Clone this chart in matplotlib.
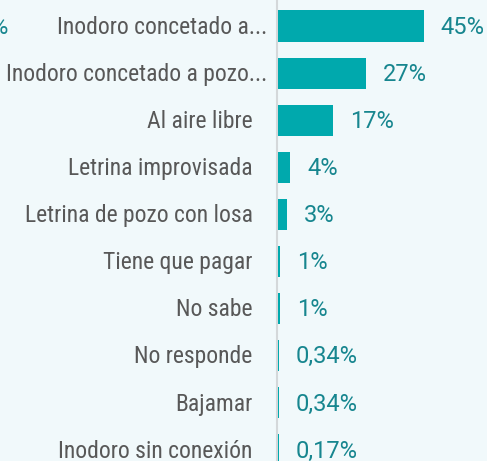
import matplotlib.pyplot as plt

# data
categories = ['Inodoro concetado a...', 'Inodoro concetado a pozo...', 'Al aire libre',
              'Letrina improvisada', 'Letrina de pozo con losa', 'Tiene que pagar',
              'No sabe', 'No responde', 'Bajamar', 'Inodoro sin conexión']
values = [45, 27, 17, 3.8, 2.8, 0.7, 0.7, 0.34, 0.34, 0.17]
value_labels = ['45%', '27%', '17%', '4%', '3%', '1%', '1%', '0,34%', '0,34%', '0,17%']

bg = '#f1f9fb'
fig = plt.figure(figsize=(4.87, 4.61), dpi=100, facecolor=bg)
ax = fig.add_axes([277 / 487, 0, 210 / 487, 1])
ax.set_facecolor(bg)

pos = list(range(len(categories)))
ax.barh(pos, values, height=0.66, color='#00a9ad', linewidth=0, zorder=3)

for p, v, lab in zip(pos, values, value_labels):
    ax.annotate(lab, (v, p), xytext=(12, -1), textcoords='offset points',
                va='center', ha='left', fontsize=17, family='Roboto', color='#17868f')

# category labels; the truncated ones sit a bit further right, as in the original
for p, cat in zip(pos, categories):
    off = -7 if cat.endswith('...') else -17.5
    ax.annotate(cat, (0, p), xytext=(off, -1), textcoords='offset points',
                xycoords=('axes fraction', 'data'), va='center', ha='right',
                fontsize=17, family='Roboto Condensed', color='#585858',
                annotation_clip=False)

ax.set_xlim(-0.3, 64.3)
ax.set_ylim(9.24, -0.552)
ax.set_yticks([])
ax.set_xticks([])
for s in ['top', 'right', 'bottom']:
    ax.spines[s].set_visible(False)
ax.spines['left'].set_color('#d4d8da')
ax.spines['left'].set_linewidth(1.5)

# stray label cut at the left edge of the screenshot
fig.text(8 / 487, 1 - 27 / 461, '%', ha='right', va='center', fontsize=17,
         family='Roboto', color='#17868f')

fig.savefig('out.png', dpi=100, facecolor=bg)
